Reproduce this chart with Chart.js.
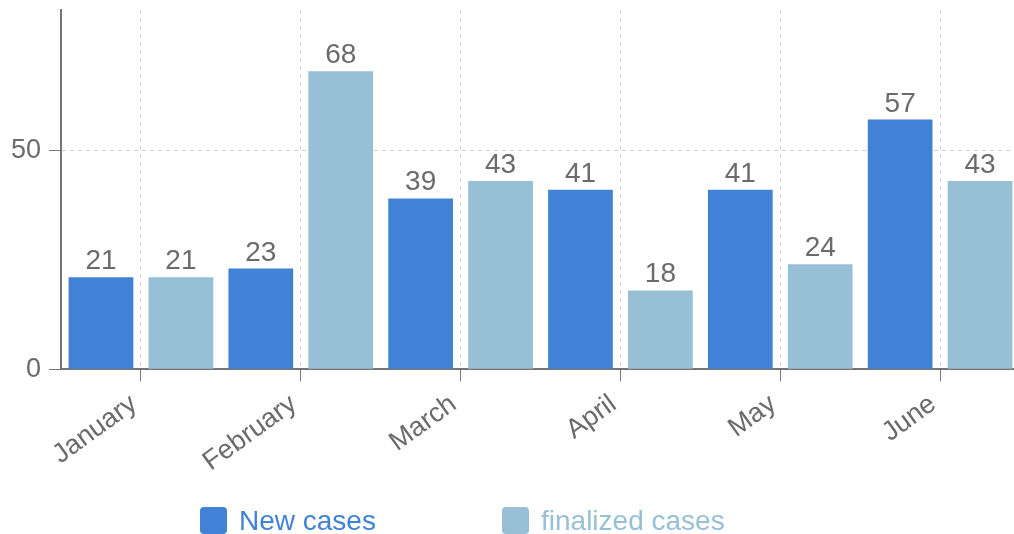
<!DOCTYPE html>
<html>
<head>
<meta charset="utf-8">
<script src="https://cdn.jsdelivr.net/npm/chart.js@4"></script>
<style>
  html, body { margin: 0; padding: 0; overflow: hidden; background: #fff; }
  #wrap { width: 1024px; height: 534px; position: relative; }
</style>
</head>
<body>
<div id="wrap"><canvas id="cases-chart"></canvas></div>
<script>
const months = ['January', 'February', 'March', 'April', 'May', 'June'];
const newCases = [21, 23, 39, 41, 41, 57];
const finalizedCases = [21, 68, 43, 18, 24, 43];
const yTicks = [0, 50];
const yMax = 82;

const FONT = "'Liberation Sans', Arial, sans-serif";
const blue = '#4182d6';
const lightBlue = '#97c0d6';
const textGrey = '#6b6b6b';
const axisGrey = '#757575';
const gridGrey = '#d2d2d2';

Chart.defaults.font.family = FONT;

// numbers on top of each bar
const barValues = {
  id: 'barValues',
  afterDatasetsDraw(chart) {
    const ctx = chart.ctx;
    ctx.save();
    ctx.font = '28px ' + FONT;
    ctx.fillStyle = textGrey;
    ctx.textAlign = 'center';
    ctx.textBaseline = 'alphabetic';
    chart.data.datasets.forEach((ds, i) => {
      chart.getDatasetMeta(i).data.forEach((bar, j) => {
        ctx.fillText(ds.data[j], bar.x, bar.y - 8);
      });
    });
    ctx.restore();
  }
};

// legend row under the chart, text in the series colour
const bottomLegend = {
  id: 'bottomLegend',
  afterDraw(chart, args, opts) {
    const ctx = chart.ctx;
    let x = opts.left;
    ctx.save();
    ctx.font = '28px ' + FONT;
    ctx.textAlign = 'left';
    ctx.textBaseline = 'alphabetic';
    chart.data.datasets.forEach(ds => {
      ctx.fillStyle = ds.backgroundColor;
      ctx.beginPath();
      ctx.roundRect(x, opts.top, opts.box, opts.box, 4);
      ctx.fill();
      ctx.fillText(ds.label, x + opts.box + 12, opts.top + 23);
      x += opts.step;
    });
    ctx.restore();
  }
};

new Chart(document.getElementById('cases-chart'), {
  type: 'bar',
  data: {
    labels: months,
    datasets: [
      { label: 'New cases', data: newCases, backgroundColor: blue },
      { label: 'finalized cases', data: finalizedCases, backgroundColor: lightBlue }
    ]
  },
  options: {
    responsive: true,
    maintainAspectRatio: false,
    animation: false,
    layout: { padding: { top: 10, right: 4, bottom: 49, left: 3 } },
    datasets: { bar: { categoryPercentage: 1, barPercentage: 0.81 } },
    scales: {
      x: {
        grid: { offset: false, color: gridGrey, tickColor: axisGrey, tickLength: 12 },
        border: { color: axisGrey, width: 2, dash: [4, 4] },
        ticks: { color: textGrey, font: { size: 27 }, minRotation: 36, maxRotation: 36, padding: 7, labelOffset: -7 }
      },
      y: {
        min: 0,
        max: yMax,
        afterBuildTicks: axis => { axis.ticks = yTicks.map(v => ({ value: v })); },
        afterFit: axis => { axis.paddingTop = 0; },
        grid: { color: gridGrey, tickColor: axisGrey, tickLength: 12 },
        border: { color: axisGrey, width: 2, dash: [4, 4] },
        ticks: { color: textGrey, font: { size: 27 }, padding: 8 }
      }
    },
    plugins: {
      legend: { display: false },
      tooltip: { enabled: false },
      bottomLegend: { left: 200, top: 507, box: 27, step: 302 }
    }
  },
  plugins: [barValues, bottomLegend]
});
</script>
</body>
</html>
